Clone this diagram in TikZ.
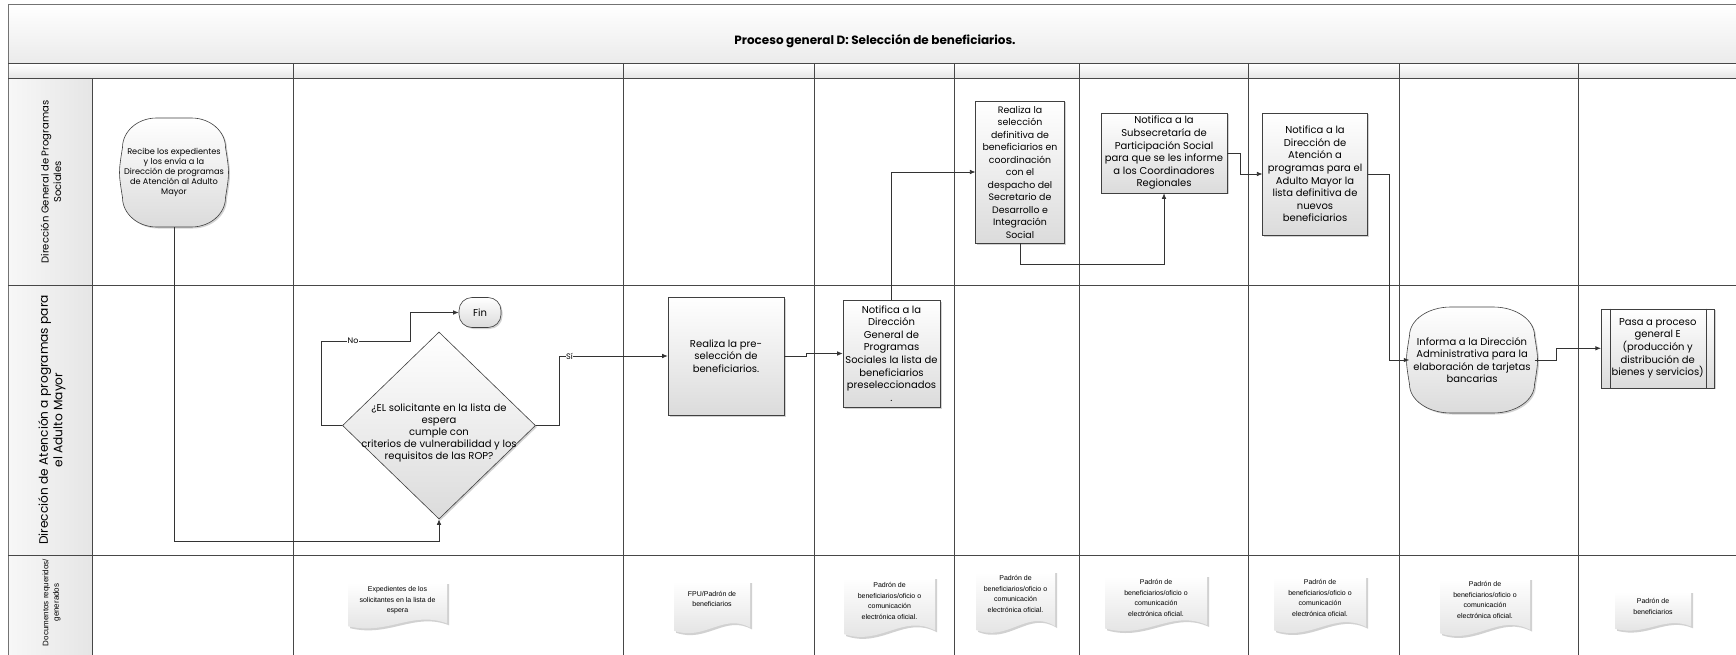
\documentclass[tikz,border=0pt]{standalone}
\usepackage{fontspec}
\setmainfont{Poppins}
\newfontfamily\arialf{Liberation Sans}
\usetikzlibrary{arrows.meta,shapes.geometric,shadows,calc}
\newcommand\boxfont{\fontsize{10}{12.6}\selectfont}
\newcommand\docshape[5]{\path[#1] ({#2},{#3}) -- ({#4},{#3}) -- ({#4},{(#5)-0.14*((#5)-(#3))}) .. controls ({(#4)-0.35*((#4)-(#2))},{(#5)-0.42*((#5)-(#3))}) and ({(#2)+0.4*((#4)-(#2))},{(#5)+0.12*((#5)-(#3))}) .. ({#2},{(#5)-0.08*((#5)-(#3))}) -- cycle;}
\newcommand\docbox[7]{%
  \docshape{fill=black!18}{#2+2}{#3+1}{#4+2}{#5+2}%
  \docshape{top color=white,bottom color=black!12}{#2}{#3}{#4}{#5}%
  \node[doct] (#1) at ({((#2)+(#4))/2},{#6}) {#7};}
\newcommand\barrelnode[7]{% name, cx, cy, w, h, font, text
  \pgfmathsetmacro\bxa{#2-#4/2}\pgfmathsetmacro\bxb{#2+#4/2}%
  \pgfmathsetmacro\bya{#3-#5/2}\pgfmathsetmacro\byb{#3+#5/2}%
  \pgfmathsetmacro\brx{0.33*#4}\pgfmathsetmacro\bry{0.27*#5}%
  \path[barrelst] ({\bxa},{\bya+\bry}) .. controls ({\bxa},{\bya+0.45*\bry}) and ({\bxa+0.45*\brx},{\bya}) .. ({\bxa+\brx},{\bya})
    -- ({\bxb-\brx},{\bya}) .. controls ({\bxb-0.45*\brx},{\bya}) and ({\bxb},{\bya+0.45*\bry}) .. ({\bxb},{\bya+\bry})
    .. controls ({\bxb+4},{#3}) .. ({\bxb},{\byb-\bry})
    .. controls ({\bxb},{\byb-0.45*\bry}) and ({\bxb-0.45*\brx},{\byb}) .. ({\bxb-\brx},{\byb})
    -- ({\bxa+\brx},{\byb}) .. controls ({\bxa+0.45*\brx},{\byb}) and ({\bxa},{\byb-0.45*\bry}) .. ({\bxa},{\byb-\bry})
    .. controls ({\bxa-4},{#3}) .. ({\bxa},{\bya+\bry}) -- cycle;
  \node[align=center, inner sep=1pt, minimum width=#4pt, minimum height=#5pt, font=#6] (#1) at (#2,#3) {#7};}
\begin{document}
\begin{tikzpicture}[x=1pt,y=-1pt,
  lane/.style={draw=black!72, line width=1pt},
  shadeit/.style={top color=white, bottom color=black!14},
  box/.style={draw=black!75, line width=0.6pt, shadeit, align=center, inner sep=1pt, font=\boxfont,
    drop shadow={shadow xshift=1.5pt,shadow yshift=-1.5pt,fill=black!35,opacity=0.5}},
  barrelst/.style={draw=black!75, line width=0.6pt, shadeit,
    drop shadow={shadow xshift=1.5pt,shadow yshift=-1.5pt,fill=black!35,opacity=0.5}},
  term/.style={box, rounded corners=13pt},
  arr/.style={-{Latex[length=5.5pt,width=4.5pt]}, draw=black!80, line width=0.7pt},
  lbl/.style={fill=white, inner sep=0.5pt, font=\fontsize{8}{9}\selectfont},
  doct/.style={align=center, inner sep=0pt, font=\arialf\fontsize{7}{10.5}\selectfont},
  lanelbl/.style={rotate=90, align=center, inner sep=0pt}
]
\useasboundingbox (0,0) rectangle (1736,655);
\fill[white] (0,0) rectangle (1736,655);
% title band and header row
\path[top color=white, bottom color=black!8] (8,5) rectangle (1736,64);
\path[top color=white, bottom color=black!11] (8,64) rectangle (1736,79);
\path[left color=black!3, right color=black!10] (8,79) rectangle (92,655);
\draw[black!55, line width=1pt] (1736,5) -- (8,5) -- (8,655);
\foreach \yy in {64,79,285,555} \draw[lane] (8,\yy) -- (1736,\yy);
\draw[lane] (92,79) -- (92,655);
\foreach \xx in {293,623,814,954,1079,1248,1399,1578} \draw[lane] (\xx,64) -- (\xx,655);
\node[font=\bfseries\fontsize{12}{14}\selectfont] (title) at (875,41) {Proceso general D: Selección de beneficiarios.};
% lane labels
\node[lanelbl, font=\fontsize{10}{12.5}\selectfont] (l1) at (51,182) {Dirección General de Programas\\Sociales};
\node[lanelbl, font=\fontsize{12.2}{14.5}\selectfont] (l2) at (52,420) {Dirección de Atención a programas para\\el Adulto Mayor};
\node[lanelbl, font=\arialf\fontsize{8}{10.5}\selectfont] (l3) at (51.5,602.5) {Documentos requeridos/\\generados};
% nodes
\barrelnode{recibe}{174}{172.5}{103}{109}{\fontsize{8.2}{10}\selectfont}{Recibe los expedientes\\y los envía a la\\Dirección de programas\\de Atención al Adulto\\Mayor}
\node[term, minimum width=42pt, minimum height=30pt] (fin) at (480,312.5) {Fin};
\node[diamond, draw=black!75, line width=0.6pt, shadeit, minimum width=193pt, minimum height=187pt, inner sep=0pt,
  drop shadow={shadow xshift=1.5pt,shadow yshift=-1.5pt,fill=black!35,opacity=0.5}] (dec) at (439,425.5) {};
\node[align=center, font=\fontsize{10}{11.8}\selectfont, inner sep=0pt] (dect) at (439,433) {¿EL solicitante en la lista de\\espera\\cumple con\\criterios de vulnerabilidad y los\\requisitos de las ROP?};
\node[box, minimum width=116pt, minimum height=118pt] (presel) at (726,356) {Realiza la  pre-\\selección de\\beneficiarios.};
\node[box, minimum width=97pt, minimum height=107pt] (notdg) at (891.5,353.5) {Notifica a la\\Dirección\\General de\\Programas\\Sociales la lista de\\beneficiarios\\preseleccionados\\.};
\node[box, minimum width=88.5pt, minimum height=142pt, font=\fontsize{9.4}{12.5}\selectfont] (sel) at (1020,172) {Realiza la\\selección\\definitiva de\\beneficiarios en\\coordinación\\con el\\despacho del\\Secretario de\\Desarrollo e\\Integración\\Social};
\node[box, minimum width=126pt, minimum height=80pt] (subs) at (1164,153) {Notifica a la\\Subsecretaría de\\Participación Social\\para que se les informe\\a los Coordinadores\\Regionales};
\node[box, minimum width=104.5pt, minimum height=122pt] (notam) at (1315,174) {Notifica a la\\Dirección de\\Atención a\\programas para el\\Adulto Mayor la\\lista definitiva de\\nuevos\\beneficiarios};
\barrelnode{informa}{1472}{360}{125}{106}{\boxfont}{Informa a la Dirección\\Administrativa para la\\elaboración de tarjetas\\bancarias}
\node[box, minimum width=113pt, minimum height=79pt] (pasa) at (1657.7,348.3) {Pasa a proceso\\general E\\(producción y\\distribución de\\bienes y servicios)};
\draw[draw=black!75, line width=0.6pt] ([xshift=9pt]pasa.north west) -- ([xshift=9pt]pasa.south west)
  ([xshift=-8.3pt]pasa.north east) -- ([xshift=-8.3pt]pasa.south east);
% connectors
\coordinate (c1) at (174,541);
\draw[arr] (recibe.south) -- (c1) -| (dec.south);
\coordinate (n1) at (321.5,341);
\coordinate (n2) at (410,341);
\draw[arr] (dec.west) -| (n1) -- (n2) |- (fin.west);
\node[lbl] (nolbl) at (353,341) {No};
\coordinate (s1) at (559,356);
\draw[arr] (dec.east) -| (s1) -- (presel.west);
\node[lbl] (silbl) at (569.5,356) {Sí};
\draw[arr] (presel.east) -- ++(22,0) |- (notdg.west);
\draw[arr] (notdg.north) |- (sel.west);
\coordinate (c3) at (1020,264);
\draw[arr] (sel.south) -- (c3) -| (subs.south);
\draw[arr] (subs.east) -- ++(13,0) |- (notam.west);
\draw[arr] (notam.east) -- ++(21.5,0) |- (informa.west);
\draw[arr] (informa.east) -- ++(22,0) |- (pasa.west);
% documents
\docbox{d1}{348}{583}{447}{630}{600.5}{Expedientes de los\\solicitantes en la lista de\\espera}
\docbox{d2}{674}{582}{750}{635}{599}{FPU/Padrón de\\beneficiarios}
\docbox{d3}{844}{578}{935}{639}{601}{Padrón de\\beneficiarios/oficio o\\comunicación\\electrónica oficial.}
\docbox{d4}{976}{572}{1055}{635}{594}{Padrón de\\beneficiarios/oficio o\\comunicación\\electrónica oficial.}
\docbox{d5}{1105}{576}{1207}{633}{598}{Padrón de\\beneficiarios/oficio o\\comunicación\\electrónica oficial.}
\docbox{d6}{1274}{577}{1366}{635}{598}{Padrón de\\beneficiarios/oficio o\\comunicación\\electrónica oficial.}
\docbox{d7}{1440}{579}{1530}{638}{600}{Padrón de\\beneficiarios/oficio o\\comunicación\\electrónica oficial.}
\docbox{d8}{1615}{592}{1691}{632}{606.5}{Padrón de\\beneficiarios}
\end{tikzpicture}
\end{document}
